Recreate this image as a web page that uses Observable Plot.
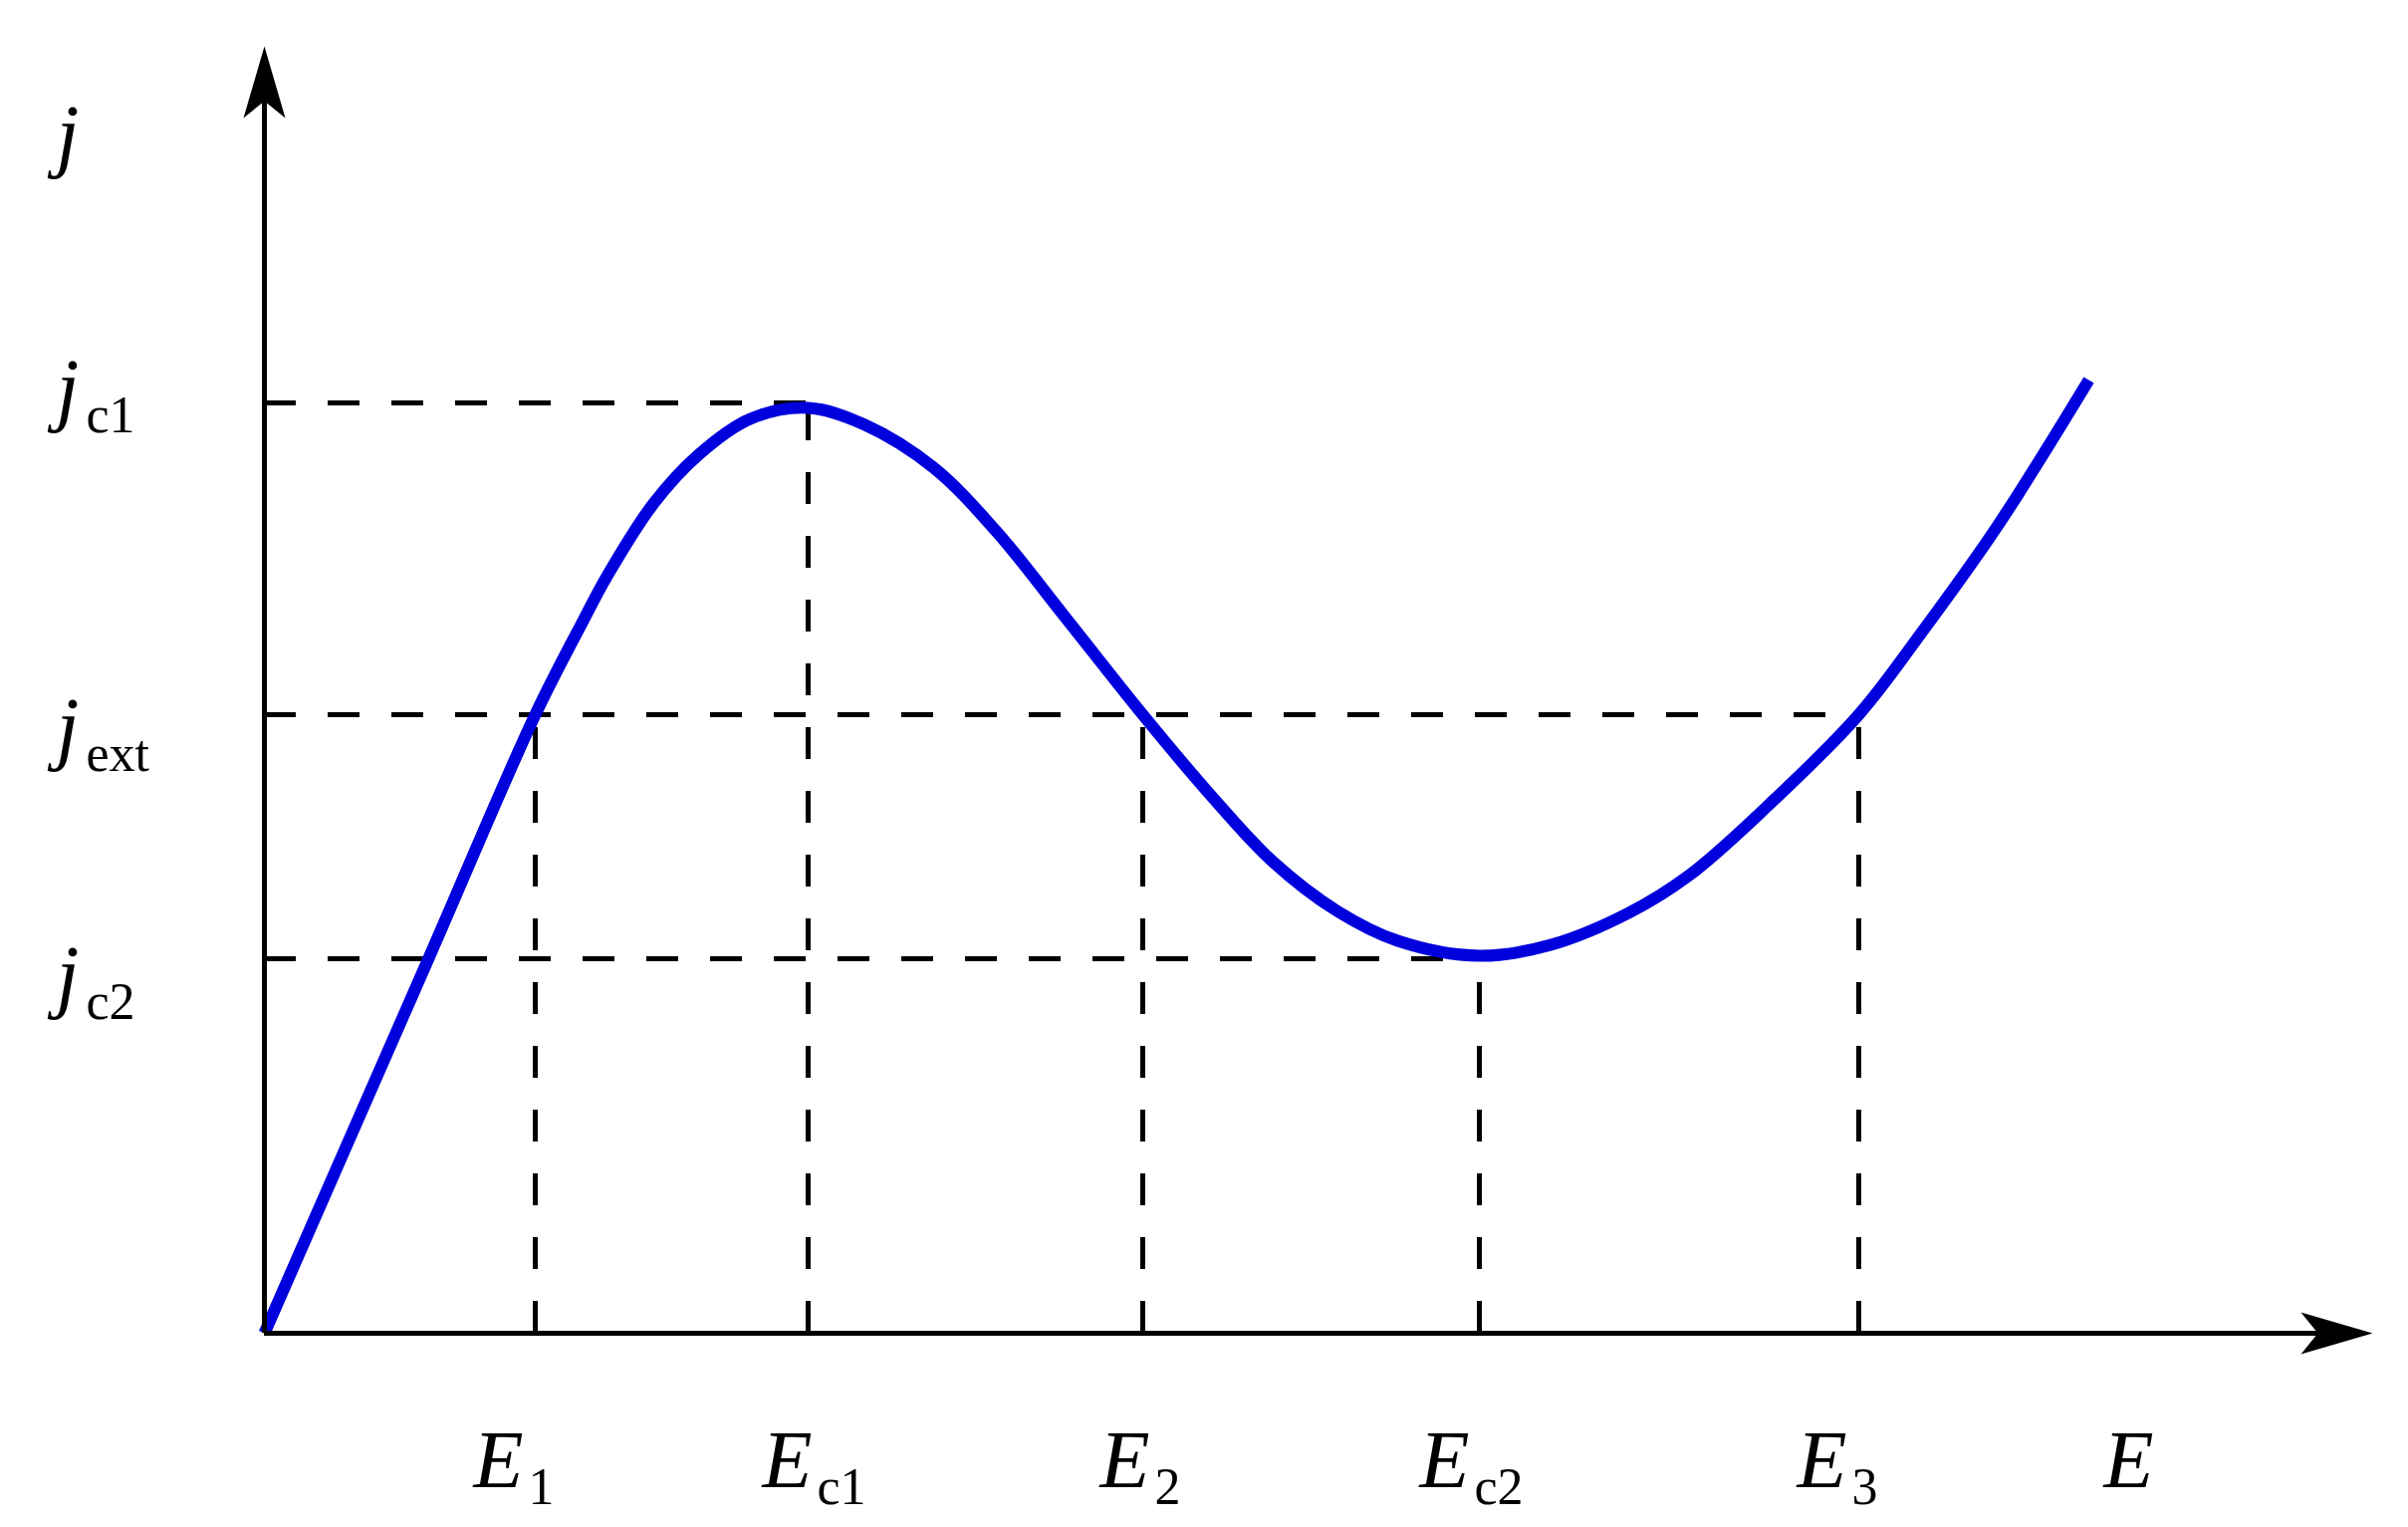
<!DOCTYPE html>
<html>
<head>
<meta charset="utf-8">
<script src="https://cdn.jsdelivr.net/npm/d3@7"></script>
<script src="https://cdn.jsdelivr.net/npm/@observablehq/plot@0.6"></script>
<style>
  html, body { margin: 0; padding: 0; background: #fff; }
  #chart svg { display: block; }
</style>
</head>
<body>
<div id="chart"></div>
<script>
// ---- Data (arbitrary units) ----
const curveE = [0, 1.665, 2.72, 3.21, 3.44, 3.90, 4.36, 4.88, 5.46, 6.03, 6.72, 7.35, 8.04, 8.82, 9.53, 10.12, 10.77, 11.38, 12.20, 12.92, 13.70, 14.31, 15.08, 16.01, 16.63, 17.40, 18.32];
const curveJ = [0, 3.80, 6.21, 7.17, 7.60, 8.32, 8.82, 9.18, 9.29, 9.12, 8.69, 8.05, 7.19, 6.21, 5.37, 4.74, 4.24, 3.94, 3.79, 3.90, 4.22, 4.60, 5.28, 6.21, 7.02, 8.10, 9.57];

// Characteristic fields (vertical dashed guides) and the level each reaches
const fieldNames = ["E1", "Ec1", "E2", "Ec2", "E3"];
const fieldE = [2.72, 5.46, 8.82, 12.20, 16.01];
const fieldTopJ = [6.21, 9.34, 6.21, 3.76, 6.21];

// Characteristic current densities (horizontal dashed guides) and where each ends
const levelNames = ["jc1", "jext", "jc2"];
const levelJ = [9.34, 6.21, 3.76];
const levelEndE = [5.46, 16.01, 12.20];

// Axis extents (arrow tips)
const axisEndE = 21.17;
const axisEndJ = 12.92;

// Tick / axis labels
const xLabelMain = ["E", "E", "E", "E", "E", "E"];
const xLabelSub = ["1", "c1", "2", "c2", "3", ""];
const xLabelE = [2.10, 5.00, 8.39, 11.60, 15.39, 18.47];
const xLabelJ = -1.54;

const yLabelMain = ["j", "j", "j", "j"];
const yLabelSub = ["", "c1", "ext", "c2"];
const yLabelJ = [11.77, 9.22, 5.82, 3.33];
const yLabelE = -2.09;

// ---- Tables built from the arrays ----
const curve = curveE.map((e, i) => ({E: e, j: curveJ[i]}));
const fields = fieldNames.map((n, i) => ({name: n, E: fieldE[i], j0: 0, j1: fieldTopJ[i]}));
const levels = levelNames.map((n, i) => ({name: n, j: levelJ[i], e0: 0, e1: levelEndE[i]}));
const xLabels = xLabelMain.map((m, i) => ({main: m, sub: xLabelSub[i], E: xLabelE[i], j: xLabelJ}));
const yLabels = yLabelMain.map((m, i) => ({main: m, sub: yLabelSub[i], E: yLabelE, j: yLabelJ[i]}));

const arrowHead = {
  draw(ctx) {
    ctx.moveTo(0, 0);
    ctx.lineTo(-21, 72);
    ctx.lineTo(0, 55);
    ctx.lineTo(21, 72);
    ctx.closePath();
  }
};

const serif = "'Liberation Serif', 'Times New Roman', Times, serif";
const dash = "32,32";

const chart = Plot.plot({
  width: 2418,
  height: 1533,
  marginLeft: 265,
  marginRight: 36,
  marginTop: 46,
  marginBottom: 195,
  x: {domain: [0, axisEndE], axis: null},
  y: {domain: [0, axisEndJ], axis: null},
  style: {background: "#fff", fontFamily: serif},
  marks: [
    // dashed guides
    Plot.ruleY(levels, {y: "j", x1: "e0", x2: "e1", stroke: "black", strokeWidth: 5, strokeDasharray: dash}),
    Plot.ruleX(fields, {x: "E", y1: "j0", y2: "j1", stroke: "black", strokeWidth: 5, strokeDasharray: dash}),
    // j(E) curve
    Plot.line(curve, {x: "E", y: "j", stroke: "#0000dd", strokeWidth: 12, curve: "catmull-rom", strokeLinecap: "butt", strokeLinejoin: "round"}),
    // axes
    Plot.ruleX([0], {y1: 0, y2: axisEndJ - 0.4, stroke: "black", strokeWidth: 5}),
    Plot.ruleY([0], {x1: 0, x2: axisEndE - 0.4, stroke: "black", strokeWidth: 5}),
    Plot.dot([{E: 0, j: axisEndJ}], {x: "E", y: "j", symbol: arrowHead, fill: "black", stroke: "none", rotate: 0}),
    Plot.dot([{E: axisEndE, j: 0}], {x: "E", y: "j", symbol: arrowHead, fill: "black", stroke: "none", rotate: 90}),
    // x labels
    Plot.text(xLabels, {x: "E", y: "j", text: "main", fontSize: 82, fontStyle: "italic", fontFamily: serif, textAnchor: "start", lineAnchor: "bottom", fill: "black"}),
    Plot.text(xLabels, {x: "E", y: "j", text: "sub", fontSize: 52, fontFamily: serif, textAnchor: "start", lineAnchor: "bottom", dx: 55, dy: 17, fill: "black"}),
    // y labels
    Plot.text(yLabels, {x: "E", y: "j", text: "main", fontSize: 82, fontStyle: "italic", fontFamily: serif, textAnchor: "start", lineAnchor: "bottom", fill: "black"}),
    Plot.text(yLabels, {x: "E", y: "j", text: "sub", fontSize: 52, fontFamily: serif, textAnchor: "start", lineAnchor: "bottom", dx: 30, dy: 17, fill: "black"})
  ]
});

document.getElementById("chart").appendChild(chart);
</script>
</body>
</html>
